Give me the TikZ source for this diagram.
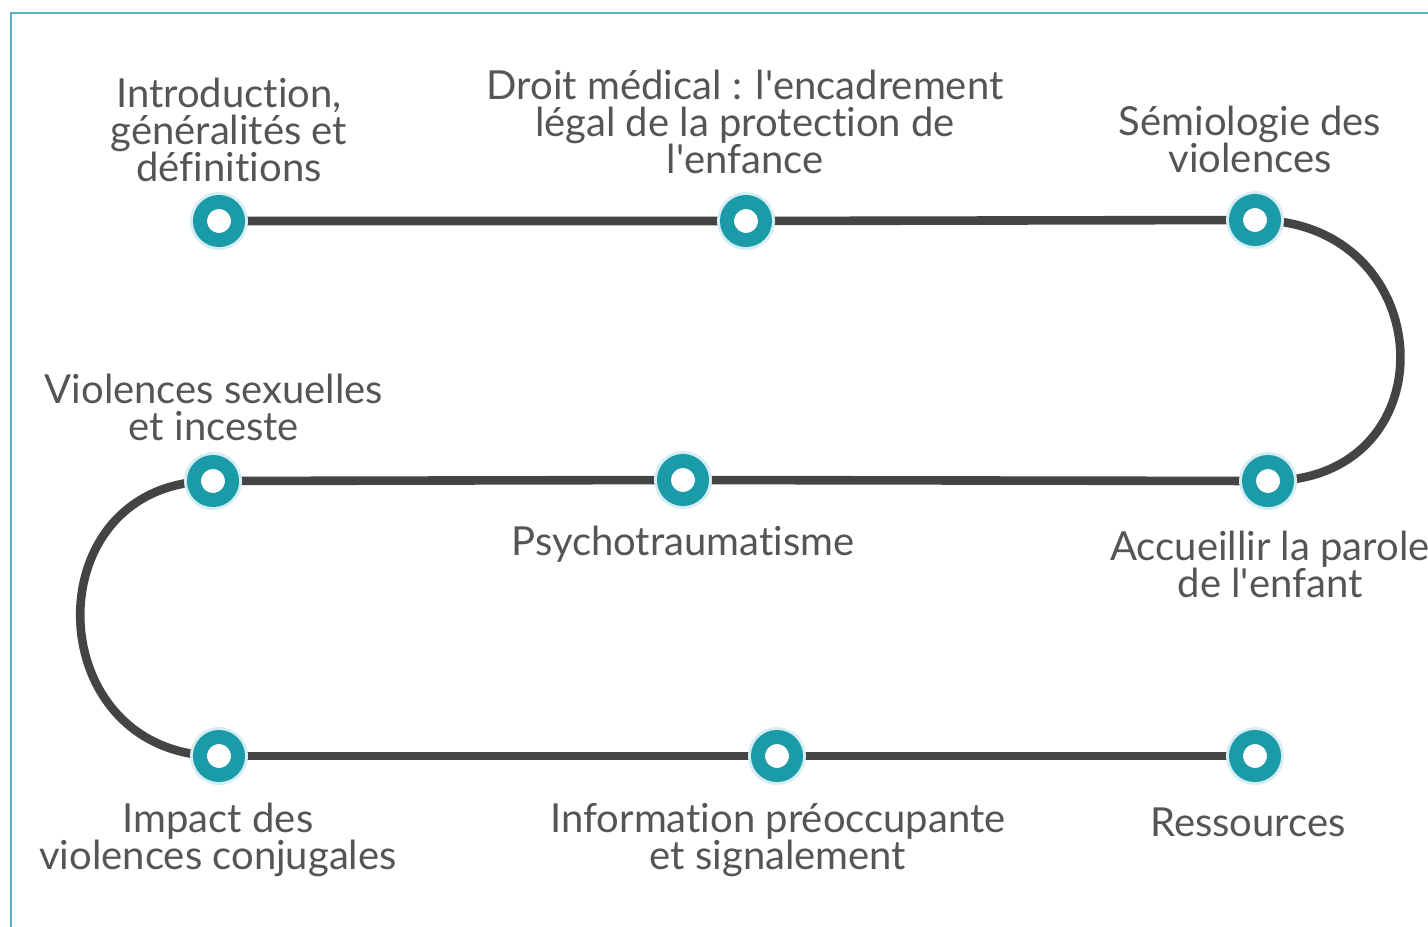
\documentclass[tikz,border=0pt]{standalone}
\usepackage{fontspec}
\setmainfont{Lato}[Ligatures=NoCommon]
\usetikzlibrary{backgrounds}
\definecolor{teal1}{HTML}{1A9BA7}
\definecolor{halo}{HTML}{D6EDF4}
\definecolor{linegray}{HTML}{444444}
\definecolor{txtgray}{HTML}{555555}
\definecolor{framec}{HTML}{5AAFBF}
\newcommand{\q}{\textquotesingle}
\tikzset{
  dot/.style={circle, inner sep=0pt, minimum size=19pt, fill=white, draw=teal1, line width=7pt,
    preaction={draw=halo, line width=10pt}},
  conn/.style={draw=linegray, line width=4.3pt},
  lbl/.style={align=center, text=txtgray, font=\fontsize{20}{18.5}\selectfont, inner sep=0pt},
  frame/.style={draw=framec, line width=1.2pt}
}
\begin{document}
\begin{tikzpicture}[x=0.5pt,y=-0.5pt]
\useasboundingbox (0,0) rectangle (1428,926);
\draw[frame] (11,940) -- (11,13) -- (1440,13);
% nodes
\node[dot] (n1) at (219,221) {};
\node[dot] (n2) at (746,221) {};
\node[dot] (n3) at (1255,220) {};
\node[dot] (n4) at (213,481) {};
\node[dot] (n5) at (683,480) {};
\node[dot] (n6) at (1268,481) {};
\node[dot] (n7) at (219,756) {};
\node[dot] (n8) at (777,756) {};
\node[dot] (n9) at (1255,756) {};
% connectors
\begin{scope}[on background layer]
\draw[conn] (n1.center) -- (n2.center) -- (n3.center);
\draw[conn] (n3.center) .. controls +(185,0) and +(185,0) .. (n6.center);
\draw[conn] (n6.center) -- (n5.center) -- (n4.center);
\draw[conn] (n4.center) .. controls +(-181,0) and +(-181,0) .. (n7.center);
\draw[conn] (n7.center) -- (n8.center) -- (n9.center);
\end{scope}
% labels
\node[lbl] (t1) at (229,130) {Introduction,\\généralités et\\définitions};
\node[lbl] (t2) at (745,122) {Droit médical : l\q encadrement\\légal de la protection de\\l\q enfance};
\node[lbl] (t3) at (1250,139) {Sémiologie des\\violences};
\node[lbl] (t4) at (214,407) {Violences sexuelles\\et inceste};
\node[lbl] (t5) at (683,544) {Psychotraumatisme};
\node[lbl] (t6) at (1270,564) {Accueillir la parole\\de l\q enfant};
\node[lbl] (t7) at (218,840) {Impact des\\violences conjugales};
\node[lbl] (t8) at (778,840) {Information préoccupante\\et signalement};
\node[lbl] (t9) at (1248,822) {Ressources};
\end{tikzpicture}
\end{document}
